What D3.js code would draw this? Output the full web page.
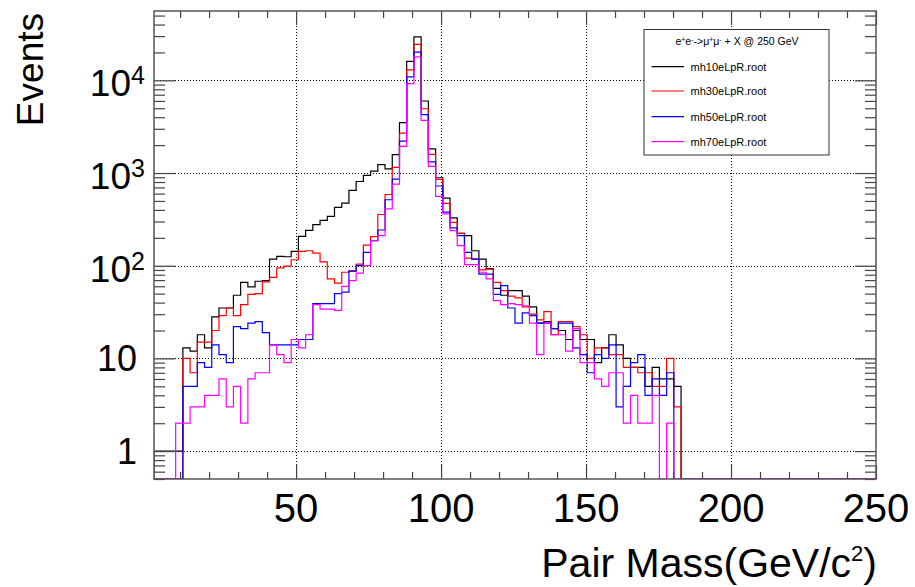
<!DOCTYPE html>
<html>
<head>
<meta charset="utf-8">
<script src="https://cdn.jsdelivr.net/npm/d3@7"></script>
<style>
  body { margin: 0; background: #fff; }
  svg text { font-family: "Liberation Sans", Arial, Helvetica, sans-serif; fill: #000; }
</style>
</head>
<body>
<svg id="chart" width="915" height="587"></svg>
<script>
// 100 bins from 1 to 250 GeV
const binLow = 1;
const binHigh = 250;
const nBins = 100;

const files = ['mh10eLpR.root', 'mh30eLpR.root', 'mh50eLpR.root', 'mh70eLpR.root'];
const colors = ['#000000', '#ff0000', '#0000ff', '#ff00ff'];

const mh10 = [
  1, 1, 1, 1, 13, 12, 18, 13, 28, 35,
  35, 48, 66, 59, 68, 69, 118, 126, 125, 143,
  207, 241, 277, 308, 340, 427, 474, 650, 810, 944,
  1050, 1230, 1110, 1580, 3490, 16000, 29400, 5990, 1820, 890,
  536, 328, 224, 211, 145, 118, 93, 57, 48, 54,
  54, 47, 36, 24, 25, 21, 20, 16, 20, 16,
  16, 9, 13, 18, 14, 10, 8, 8, 5, 8,
  6, 6, 5, 0, 0, 0, 0, 0, 0, 0,
  0, 0, 0, 0, 0, 0, 0, 0, 0, 0,
  0, 0, 0, 0, 0, 0, 0, 0, 0, 0
];
const mh30 = [
  0, 0, 0, 0, 10, 7, 15, 15, 20, 29,
  35, 29, 38, 49, 50, 67, 75, 95, 99, 116,
  143, 145, 137, 110, 72, 65, 85, 87, 104, 167,
  206, 357, 587, 1150, 2700, 13000, 24500, 4940, 1590, 853,
  470, 294, 224, 121, 118, 90, 92, 66, 54, 47,
  45, 36, 30, 26, 32, 18, 25, 25, 22, 18,
  10, 13, 13, 11, 11, 8, 8, 7, 7, 5,
  5, 10, 3, 0, 0, 0, 0, 0, 0, 0,
  0, 0, 0, 0, 0, 0, 0, 0, 0, 0,
  0, 0, 0, 0, 0, 0, 0, 0, 0, 0
];
const mh50 = [
  0, 0, 0, 0, 5, 5, 9, 8, 14, 11,
  9, 22, 21, 24, 25, 19, 14, 14, 14, 14,
  16, 16, 39, 39, 39, 50, 52, 88, 100, 139,
  186, 243, 515, 860, 2210, 10900, 20200, 4260, 1320, 725,
  378, 256, 211, 139, 118, 81, 81, 49, 61, 35,
  24, 31, 29, 24, 24, 21, 24, 24, 13, 11,
  7, 11, 10, 14, 3, 5, 9, 11, 4, 6,
  4, 7, 0, 0, 0, 0, 0, 0, 0, 0,
  0, 0, 0, 0, 0, 0, 0, 0, 0, 0,
  0, 0, 0, 0, 0, 0, 0, 0, 0, 0
];
const mh70 = [
  0, 0, 0, 2, 2, 3, 3, 4, 4, 6,
  3, 5, 2, 6, 7, 7, 14, 11, 9, 16,
  13, 18, 38, 34, 34, 33, 60, 69, 83, 100,
  186, 211, 410, 760, 1940, 9200, 17900, 3700, 1180, 560,
  363, 239, 165, 103, 103, 85, 72, 42, 38, 39,
  38, 37, 24, 11, 24, 18, 18, 12, 21, 9,
  9, 6, 5, 7, 7, 2, 4, 2, 2, 4,
  0, 2, 0, 0, 0, 0, 0, 0, 0, 0,
  0, 0, 0, 0, 0, 0, 0, 0, 0, 0,
  0, 0, 0, 0, 0, 0, 0, 0, 0, 0
];
const hists = [mh10, mh30, mh50, mh70];

const xLabels = [50, 100, 150, 200, 250];
const yLabels = [1, 10, 100, 1000, 10000];

// frame
const frame = { left: 154, right: 876, top: 11, bottom: 479 };

const svg = d3.select('#chart');

const x = d3.scaleLinear().domain([binLow, binHigh]).range([frame.left, frame.right]);
const y = d3.scaleLog().domain([0.5, 56000]).range([frame.bottom, frame.top]);

const binWidth = (binHigh - binLow) / nBins;
const edges = d3.range(nBins + 1).map(i => binLow + i * binWidth);

svg.append('clipPath').attr('id', 'plot-clip')
  .append('rect')
  .attr('x', frame.left).attr('y', frame.top)
  .attr('width', frame.right - frame.left)
  .attr('height', frame.bottom - frame.top);

// dotted grid at major ticks
const grid = svg.append('g').attr('class', 'grid')
  .attr('stroke', '#000').attr('stroke-width', 1).attr('stroke-dasharray', '1,2');
grid.selectAll('line.gx').data(xLabels.filter(v => v < binHigh)).join('line')
  .attr('x1', d => x(d) + 0.5).attr('x2', d => x(d) + 0.5)
  .attr('y1', frame.top).attr('y2', frame.bottom);
grid.selectAll('line.gy').data(yLabels).join('line')
  .attr('y1', d => Math.round(y(d)) + 0.5).attr('y2', d => Math.round(y(d)) + 0.5)
  .attr('x1', frame.left).attr('x2', frame.right);

// step outlines
const stepLine = d3.line().x(d => d[0]).y(d => d[1]);
const yClamp = v => (v > 0 ? y(v) : frame.bottom);

const histG = svg.append('g').attr('clip-path', 'url(#plot-clip)');
hists.forEach((vals, k) => {
  const pts = [[x(edges[0]), frame.bottom]];
  vals.forEach((v, i) => {
    pts.push([x(edges[i]), yClamp(v)]);
    pts.push([x(edges[i + 1]), yClamp(v)]);
  });
  pts.push([x(edges[nBins]), frame.bottom]);
  histG.append('path')
    .attr('d', stepLine(pts))
    .attr('fill', 'none')
    .attr('stroke', colors[k])
    .attr('stroke-width', 1.2);
});

// axes: ticks point inward, on all four sides
const xMajor = xLabels;
const xMinor = d3.range(10, 250, 10).filter(v => v % 50 !== 0);
const yMajor = yLabels;
const yMinor = y.ticks().filter(v => !yMajor.includes(v));

function styleAxis(g) {
  g.select('.domain').remove();
  g.selectAll('.tick line').attr('stroke', '#444').attr('stroke-width', 1.2);
  g.selectAll('.tick text').remove();
}

const axes = [
  [d3.axisBottom(x).tickValues(xMajor).tickSize(-14), `translate(0,${frame.bottom})`],
  [d3.axisBottom(x).tickValues(xMinor).tickSize(-7), `translate(0,${frame.bottom})`],
  [d3.axisTop(x).tickValues(xMajor).tickSize(-14), `translate(0,${frame.top})`],
  [d3.axisTop(x).tickValues(xMinor).tickSize(-7), `translate(0,${frame.top})`],
  [d3.axisLeft(y).tickValues(yMajor).tickSize(-21), `translate(${frame.left},0)`],
  [d3.axisLeft(y).tickValues(yMinor).tickSize(-11), `translate(${frame.left},0)`],
  [d3.axisRight(y).tickValues(yMajor).tickSize(-21), `translate(${frame.right},0)`],
  [d3.axisRight(y).tickValues(yMinor).tickSize(-11), `translate(${frame.right},0)`]
];
axes.forEach(([ax, tr]) => {
  svg.append('g').attr('transform', tr).call(ax).call(styleAxis);
});

// frame box
svg.append('rect')
  .attr('x', frame.left).attr('y', frame.top)
  .attr('width', frame.right - frame.left)
  .attr('height', frame.bottom - frame.top)
  .attr('fill', 'none').attr('stroke', '#555').attr('stroke-width', 1.5);

// x tick labels
svg.append('g').selectAll('text').data(xLabels).join('text')
  .attr('x', d => x(d)).attr('y', 522)
  .attr('text-anchor', 'middle')
  .attr('font-size', 40)
  .text(d => d);

// y tick labels: 1, 10, then 10^n
const yl = svg.append('g');
yLabels.forEach(v => {
  const py = y(v);
  const exp = Math.round(Math.log10(v));
  if (exp < 2) {
    yl.append('text').attr('x', 137).attr('y', py + 13)
      .attr('text-anchor', 'end').attr('font-size', 36).text(v);
  } else {
    const t = yl.append('text').attr('x', 131).attr('y', py + 16)
      .attr('text-anchor', 'end').attr('font-size', 37).text('10');
    yl.append('text').attr('x', 131).attr('y', py + 4)
      .attr('font-size', 25).text(exp);
  }
});

// axis titles
svg.append('text')
  .attr('transform', 'translate(43,13) rotate(-90)')
  .attr('text-anchor', 'end')
  .attr('font-size', 37)
  .text('Events');

const xt = svg.append('text')
  .attr('x', 877).attr('y', 577)
  .attr('text-anchor', 'end')
  .attr('font-size', 41);
xt.append('tspan').text('Pair Mass(GeV/c');
xt.append('tspan').attr('font-size', 22).attr('dy', -16).text('2');
xt.append('tspan').attr('dy', 16).text(')');

// legend
const leg = svg.append('g');
leg.append('rect')
  .attr('x', 644).attr('y', 29.5).attr('width', 185).attr('height', 125.5)
  .attr('fill', '#fff').attr('stroke', '#333').attr('stroke-width', 1);

const head = leg.append('text').attr('x', 737).attr('y', 45)
  .attr('text-anchor', 'middle').attr('font-size', 10.5);
[['e', 0], ['+', 1], ['e', 0], ['-', 1], ['->\u03bc', 0], ['+', 1], ['\u03bc', 0], ['-', 1], ['  + X @ 250 GeV', 0]]
  .forEach(([s, sup]) => {
    head.append('tspan')
      .attr('font-size', sup ? 7 : 10.5)
      .attr('baseline-shift', sup ? '45%' : null)
      .text(s);
  });

const entryY = [66.7, 91, 116.7, 141.7];
files.forEach((f, k) => {
  leg.append('line')
    .attr('x1', 651.5).attr('x2', 684).attr('y1', entryY[k]).attr('y2', entryY[k])
    .attr('stroke', colors[k]).attr('stroke-width', 1.2);
  leg.append('text')
    .attr('x', 690.5).attr('y', entryY[k] + 4)
    .attr('font-size', 11)
    .text(f);
});
</script>
</body>
</html>
